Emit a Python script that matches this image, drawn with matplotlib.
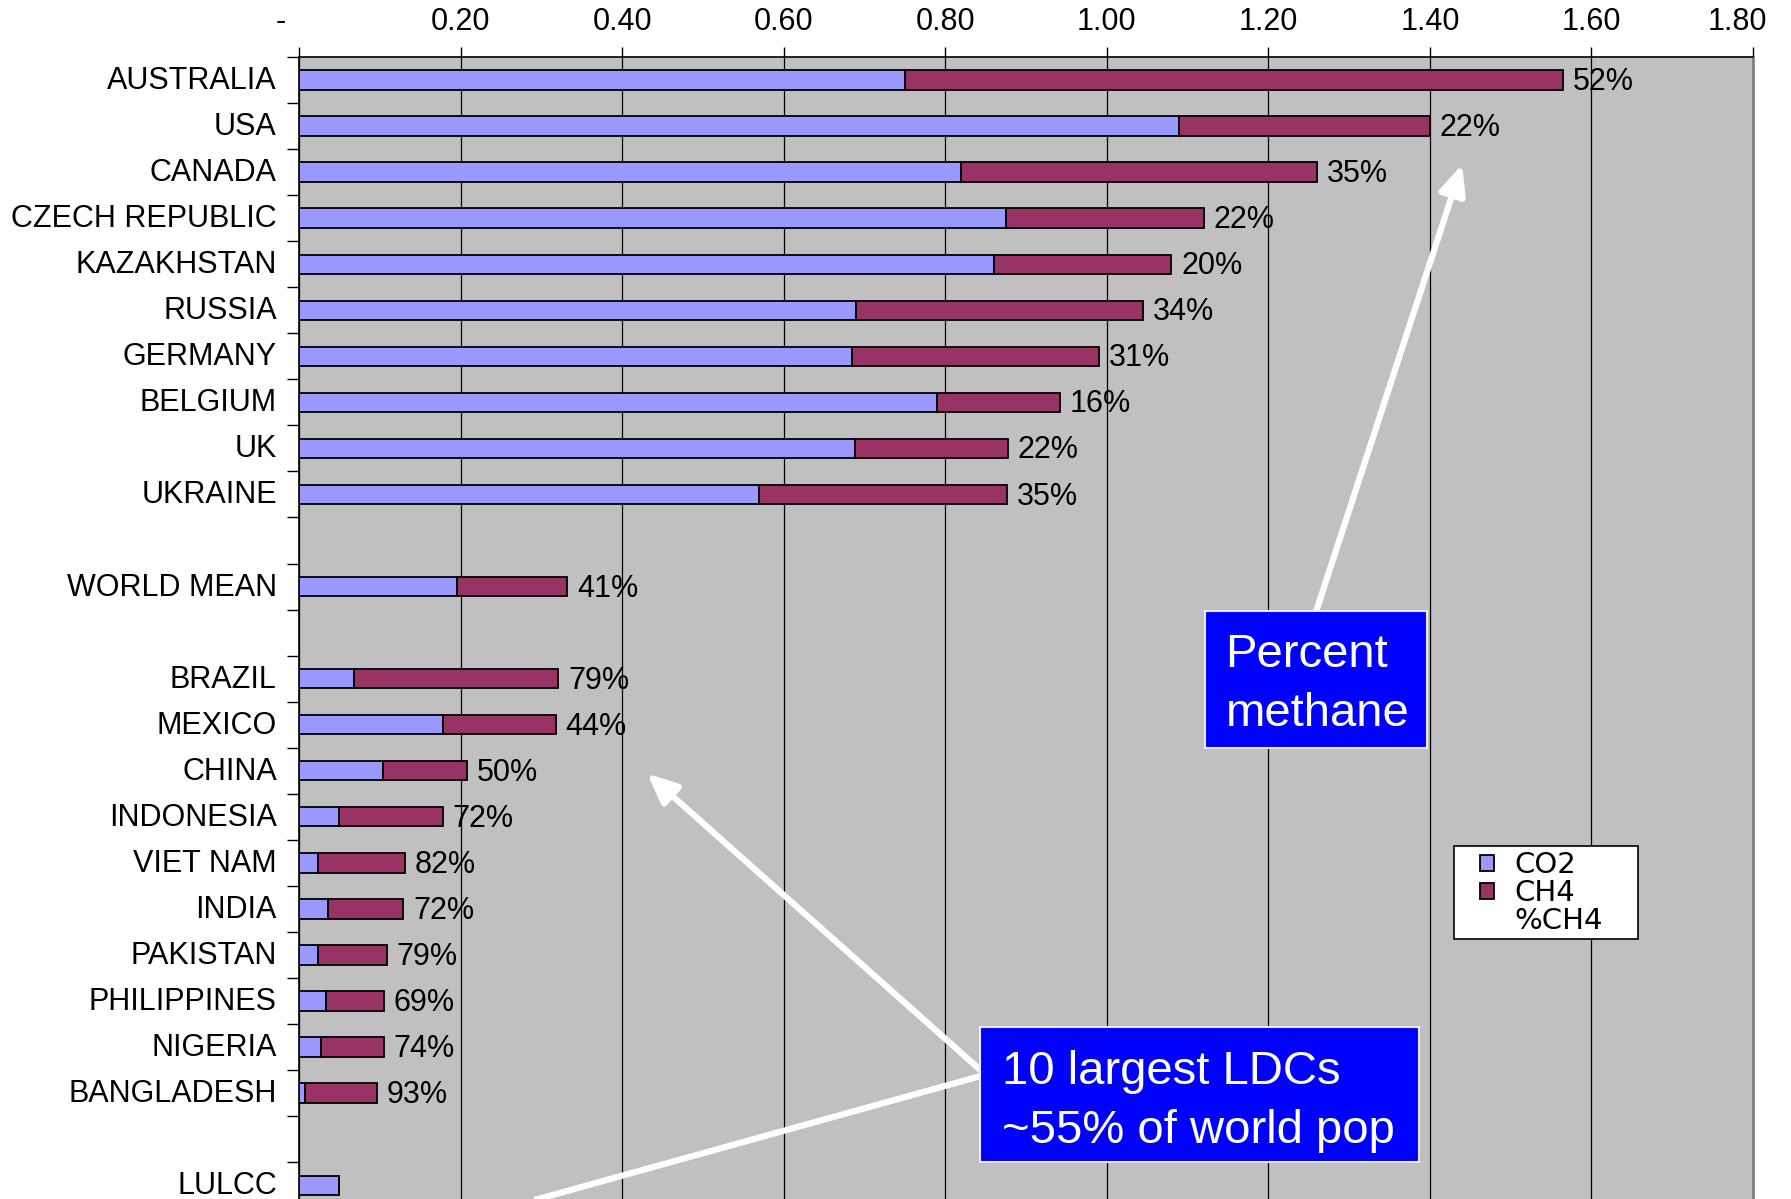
import numpy as np
import matplotlib
matplotlib.use("Agg")
import matplotlib.pyplot as plt
import matplotlib.transforms as mtransforms
from matplotlib.patches import Patch, Rectangle
from matplotlib.lines import Line2D

plt.rcParams["font.family"] = ["Liberation Sans", "DejaVu Sans"]

# Emissions per country (blank strings are spacer rows)
countries = ["AUSTRALIA", "USA", "CANADA", "CZECH REPUBLIC", "KAZAKHSTAN",
             "RUSSIA", "GERMANY", "BELGIUM", "UK", "UKRAINE", "",
             "WORLD MEAN", "",
             "BRAZIL", "MEXICO", "CHINA", "INDONESIA", "VIET NAM", "INDIA",
             "PAKISTAN", "PHILIPPINES", "NIGERIA", "BANGLADESH", "",
             "LULCC"]
co2 = [0.750, 1.090, 0.820, 0.875, 0.860, 0.690, 0.685, 0.790, 0.688, 0.570,
       np.nan, 0.195, np.nan,
       0.068, 0.178, 0.104, 0.050, 0.023, 0.036, 0.023, 0.033, 0.027, 0.007,
       np.nan, 0.050]
ch4 = [0.815, 0.310, 0.440, 0.245, 0.220, 0.355, 0.305, 0.152, 0.190, 0.307,
       np.nan, 0.137, np.nan,
       0.253, 0.140, 0.104, 0.128, 0.108, 0.093, 0.086, 0.072, 0.078, 0.089,
       np.nan, 0.0]

x_ticks = [0, 0.2, 0.4, 0.6, 0.8, 1.0, 1.2, 1.4, 1.6, 1.8]
x_labels = ["-", "0.20", "0.40", "0.60", "0.80", "1.00", "1.20", "1.40",
            "1.60", "1.80"]

co2_color = "#9999FF"
ch4_color = "#993366"

co2 = np.array(co2)
ch4 = np.array(ch4)
total = co2 + ch4
rows = np.arange(len(countries))

W, H = 1791, 1199
fig = plt.figure(figsize=(W / 100, H / 100), dpi=100)
ax = fig.add_axes([299 / W, 0, 1454 / W, 1142 / H])
ax.set_facecolor("#C0C0C0")

ax.barh(rows, co2, height=0.42, color=co2_color, edgecolor="black",
        linewidth=1.3, zorder=3)
ax.barh(rows, ch4, left=co2, height=0.42, color=ch4_color,
        edgecolor="black", linewidth=1.3, zorder=3)

# percent methane labels at the end of each stacked bar
for r, c, m, t in zip(rows, co2, ch4, total):
    if np.isnan(t) or m <= 0:
        continue
    pct = round(m / t * 100)
    ax.annotate(f"{pct}%", xy=(t, r), xytext=(7, -1.5),
                textcoords="offset points", va="center", ha="left",
                fontsize=22, zorder=4)

# x axis along the top
ax.xaxis.tick_top()
ax.set_xticks(x_ticks)
ax.set_xticklabels(x_labels, fontsize=22)
ax.tick_params(axis="x", direction="out", length=7, width=1, pad=7.5)
ax.xaxis.grid(True, color="black", linewidth=0.9, zorder=1)
ax.set_axisbelow(True)

labels = ax.get_xticklabels()
labels[0].set_transform(labels[0].get_transform() +
                        mtransforms.ScaledTranslation(-0.18, 0, fig.dpi_scale_trans))
labels[-1].set_transform(labels[-1].get_transform() +
                         mtransforms.ScaledTranslation(-0.16, 0, fig.dpi_scale_trans))

# category names, tick marks between the rows
ax.set_yticks(rows)
ax.set_yticklabels(countries, fontsize=22)
ax.set_yticks(np.arange(-0.5, len(countries) - 1, 1.0), minor=True)
ax.tick_params(axis="y", which="major", length=0, pad=16)
ax.tick_params(axis="y", which="minor", direction="out", length=9, width=1)
lift = mtransforms.ScaledTranslation(0, 0.025, fig.dpi_scale_trans)
for lbl in ax.get_yticklabels():
    lbl.set_transform(lbl.get_transform() + lift)

# limits last, so the tick setters can't widen them
ax.set_xlim(0, 1.8)
ax.set_ylim(24.3, -0.5)

ax.spines["bottom"].set_visible(False)
ax.spines["right"].set_color("#808080")
ax.spines["right"].set_linewidth(2)
ax.spines["left"].set_linewidth(1.2)
ax.spines["top"].set_linewidth(1.2)

# legend: white frame drawn separately, entries placed inside it
ax.add_patch(Rectangle((0.7944, 0.2277), 0.1265, 0.0814,
                       transform=ax.transAxes, facecolor="white",
                       edgecolor="black", linewidth=1.2, zorder=6))
handles = [Patch(facecolor=co2_color, edgecolor="black", linewidth=1.3),
           Patch(facecolor=ch4_color, edgecolor="black", linewidth=1.3),
           Line2D([], [], linestyle="none")]
leg = ax.legend(handles, ["CO2", "CH4", "%CH4"], loc="upper left",
                bbox_to_anchor=(0.8125, 0.3045), borderaxespad=0,
                prop={"family": "DejaVu Sans", "size": 21},
                handlelength=0.48, handleheight=0.48,
                handletextpad=0.7, labelspacing=0.0, borderpad=0,
                frameon=False)
leg.set_zorder(7)

# callout arrows
arrow_style = dict(arrowstyle="-|>,head_length=0.9,head_width=0.4",
                   color="white", lw=4.5, mutation_scale=20,
                   shrinkA=0, shrinkB=0)
ax.annotate("", xy=(1.44, 1.83), xytext=(1.258, 11.6),
            arrowprops=arrow_style, zorder=5)
ax.annotate("", xy=(0.431, 15.06), xytext=(0.85, 21.6),
            arrowprops=arrow_style, zorder=5)
ax.plot([0.85, 0.05], [21.6, 25.5], color="white", lw=4.5, zorder=5,
        clip_on=False, solid_capstyle="butt")

# blue text boxes
ax.add_patch(Rectangle((1.121, 11.54), 0.276, 2.97, facecolor="#0000FF",
                       edgecolor="#E8E8FF", linewidth=1.5, zorder=8))
ax.text(1.147, 13.13, "Percent\nmethane", color="white", fontsize=34,
        ha="left", va="center", linespacing=1.42, zorder=9)

ax.add_patch(Rectangle((0.843, 20.56), 0.544, 2.94, facecolor="#0000FF",
                       edgecolor="#E8E8FF", linewidth=1.5, zorder=8))
ax.text(0.870, 22.18, "10 largest LDCs\n~55% of world pop", color="white",
        fontsize=34, ha="left", va="center", linespacing=1.42, zorder=9)

fig.savefig("out.png", dpi=100)
